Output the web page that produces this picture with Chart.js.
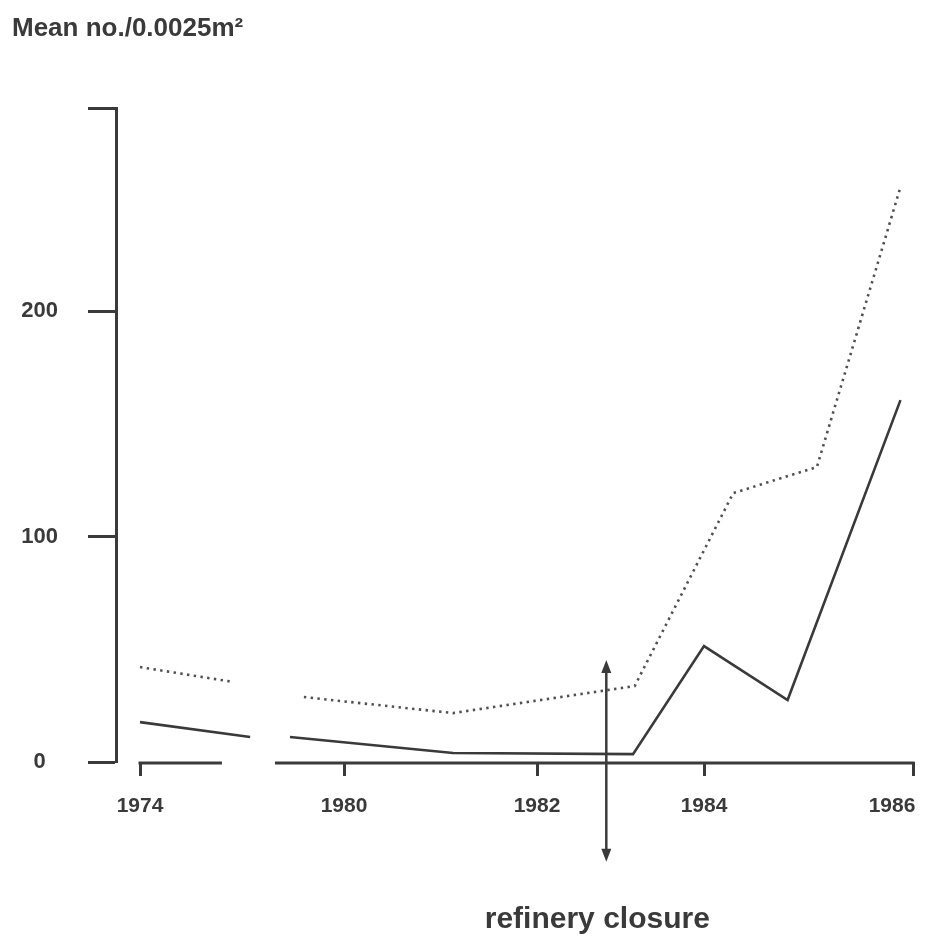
<!DOCTYPE html>
<html>
<head>
<meta charset="utf-8">
<script src="https://cdn.jsdelivr.net/npm/chart.js@4/dist/chart.umd.min.js"></script>
<style>
  html, body { margin: 0; padding: 0; background: #ffffff; }
  #wrap { width: 925px; height: 936px; position: relative; }
</style>
</head>
<body>
<div id="wrap"><canvas id="c"></canvas></div>
<script>
// ---- data ----
const tickYears = [1974, 1980, 1982, 1984, 1986];
const yTicks = [0, 100, 200];
const yAxisTop = 290;

// solid line (broken between the two parts of the time axis)
const solidYears  = [1974.0, 1977.24, 1978.41, 1981.13, 1983.15, 1984.0, 1984.80, 1985.88];
const solidValues = [17.7,   11.1,    11.1,    4.0,     3.5,     51.4,   27.5,    160.5];
const solidBreakAfter = 1; // index after which the line is interrupted

// dotted line
const dottedYears  = [1974.0, 1976.74, 1978.82, 1981.13, 1983.17, 1984.28, 1985.08, 1985.88];
const dottedValues = [42.1,   35.5,    28.8,    21.7,    33.7,    119.3,   130.8,   255.0];
const dottedBreakAfter = 1;

const closureYear = 1982.83;
const axisBreak = [1976.41, 1977.97];

// ---- piecewise x axis (the reference's year ticks are unevenly spaced) ----
const anchorYears = [1974, 1980, 1982, 1984, 1986];
const anchorFracs = [24/809, 228/809, 421/809, 588/809, 797/809];
const lastLabelShift = -21; // the last year label sits left of its tick (page edge)

class BrokenYearScale extends Chart.LinearScale {
  _seg(value) {
    let i = 0;
    while (i < anchorYears.length - 2 && value > anchorYears[i + 1]) i++;
    return i;
  }
  getPixelForValue(value) {
    const i = this._seg(value);
    const t = (value - anchorYears[i]) / (anchorYears[i + 1] - anchorYears[i]);
    const f = anchorFracs[i] + t * (anchorFracs[i + 1] - anchorFracs[i]);
    return this.left + f * this.width;
  }
  getValueForPixel(pixel) {
    const f = (pixel - this.left) / this.width;
    let i = 0;
    while (i < anchorFracs.length - 2 && f > anchorFracs[i + 1]) i++;
    const t = (f - anchorFracs[i]) / (anchorFracs[i + 1] - anchorFracs[i]);
    return anchorYears[i] + t * (anchorYears[i + 1] - anchorYears[i]);
  }
  _computeLabelItems(chartArea) {
    const items = super._computeLabelItems(chartArea);
    const last = items[items.length - 1];
    if (last && last.options && last.options.translation) {
      last.options.translation[0] += lastLabelShift;
    }
    return items;
  }
}
BrokenYearScale.id = 'brokenYear';
BrokenYearScale.defaults = Chart.LinearScale.defaults;
Chart.register(BrokenYearScale);

function toPoints(xs, ys, breakAfter) {
  const pts = [];
  xs.forEach((x, i) => {
    pts.push({ x: x, y: ys[i] });
    if (i === breakAfter) pts.push({ x: (x + xs[i + 1]) / 2, y: null });
  });
  return pts;
}

const INK = '#3a3a3a';
const FONT = "'Liberation Sans', Arial, Helvetica, sans-serif";

const extras = {
  id: 'extras',
  afterDraw(chart) {
    const { ctx, chartArea } = chart;
    const xs = chart.scales.x, ys = chart.scales.y;
    ctx.save();
    // broken x axis
    ctx.strokeStyle = INK;
    ctx.lineWidth = 3;
    ctx.lineCap = 'butt';
    const yAx = chartArea.bottom + 1;
    ctx.beginPath();
    ctx.moveTo(xs.getPixelForValue(tickYears[0]) - 1.5, yAx);
    ctx.lineTo(xs.getPixelForValue(axisBreak[0]), yAx);
    ctx.moveTo(xs.getPixelForValue(axisBreak[1]), yAx);
    ctx.lineTo(xs.getPixelForValue(tickYears[tickYears.length - 1]) + 1.5, yAx);
    ctx.stroke();

    // refinery closure arrow
    const ax = xs.getPixelForValue(closureYear);
    const yTop = ys.getPixelForValue(45.2);
    const yBot = ys.getPixelForValue(-44.3);
    ctx.lineWidth = 2.5;
    ctx.beginPath();
    ctx.moveTo(ax, yTop + 8);
    ctx.lineTo(ax, yBot - 8);
    ctx.stroke();
    ctx.fillStyle = INK;
    ctx.beginPath();
    ctx.moveTo(ax, yTop); ctx.lineTo(ax - 5, yTop + 13); ctx.lineTo(ax + 5, yTop + 13); ctx.closePath();
    ctx.fill();
    ctx.beginPath();
    ctx.moveTo(ax, yBot); ctx.lineTo(ax - 5, yBot - 13); ctx.lineTo(ax + 5, yBot - 13); ctx.closePath();
    ctx.fill();

    // label
    ctx.font = 'bold 30px ' + FONT;
    ctx.textAlign = 'center';
    ctx.textBaseline = 'alphabetic';
    ctx.fillText('refinery closure', ax - 9, 928);
    ctx.restore();
  }
};

new Chart(document.getElementById('c'), {
  type: 'line',
  data: {
    datasets: [
      {
        label: 'solid',
        data: toPoints(solidYears, solidValues, solidBreakAfter),
        borderColor: INK,
        borderWidth: 2.6,
        pointRadius: 0,
        spanGaps: false,
        tension: 0
      },
      {
        label: 'dotted',
        data: toPoints(dottedYears, dottedValues, dottedBreakAfter),
        borderColor: '#505050',
        borderWidth: 2.6,
        borderDash: [2.4, 4.4],
        pointRadius: 0,
        spanGaps: false,
        tension: 0
      }
    ]
  },
  options: {
    responsive: true,
    maintainAspectRatio: false,
    animation: false,
    events: [],
    layout: { padding: { left: 12, right: 0, top: 0, bottom: 0 } },
    plugins: {
      legend: { display: false },
      tooltip: { enabled: false },
      title: {
        display: true,
        text: 'Mean no./0.0025m²',
        align: 'start',
        color: INK,
        font: { family: FONT, size: 26, weight: 'bold' },
        padding: { top: 13, bottom: 64 }
      }
    },
    scales: {
      x: {
        type: 'brokenYear',
        position: 'bottom',
        min: 1973.3,
        max: 1986.3,
        afterBuildTicks: (s) => { s.ticks = tickYears.map(v => ({ value: v })); },
        afterFit: (s) => { s.height = 174; s.paddingLeft = 0; s.paddingRight = 0; },
        border: { display: false },
        grid: {
          display: true,
          drawOnChartArea: false,
          drawTicks: true,
          tickLength: 14,
          tickWidth: 3,
          tickColor: INK
        },
        ticks: {
          autoSkip: false,
          maxRotation: 0,
          padding: 18,
          color: INK,
          font: { family: FONT, size: 21, weight: 'bold' },
          callback: (v) => String(v)
        }
      },
      y: {
        type: 'linear',
        position: 'left',
        min: 0,
        max: yAxisTop,
        afterBuildTicks: (s) => { s.ticks = yTicks.concat([yAxisTop]).map(v => ({ value: v })); },
        afterFit: (s) => { s.width = 104; s.paddingTop = 0; s.paddingBottom = 0; },
        border: { display: true, color: INK, width: 3 },
        grid: {
          display: true,
          drawOnChartArea: false,
          drawTicks: true,
          tickLength: 28,
          tickWidth: 3,
          tickColor: INK
        },
        ticks: {
          crossAlign: 'center',
          padding: 30,
          color: INK,
          font: { family: FONT, size: 22, weight: 'bold' },
          callback: (v) => (v === yAxisTop ? '' : String(v))
        }
      }
    }
  },
  plugins: [extras]
});
</script>
</body>
</html>
